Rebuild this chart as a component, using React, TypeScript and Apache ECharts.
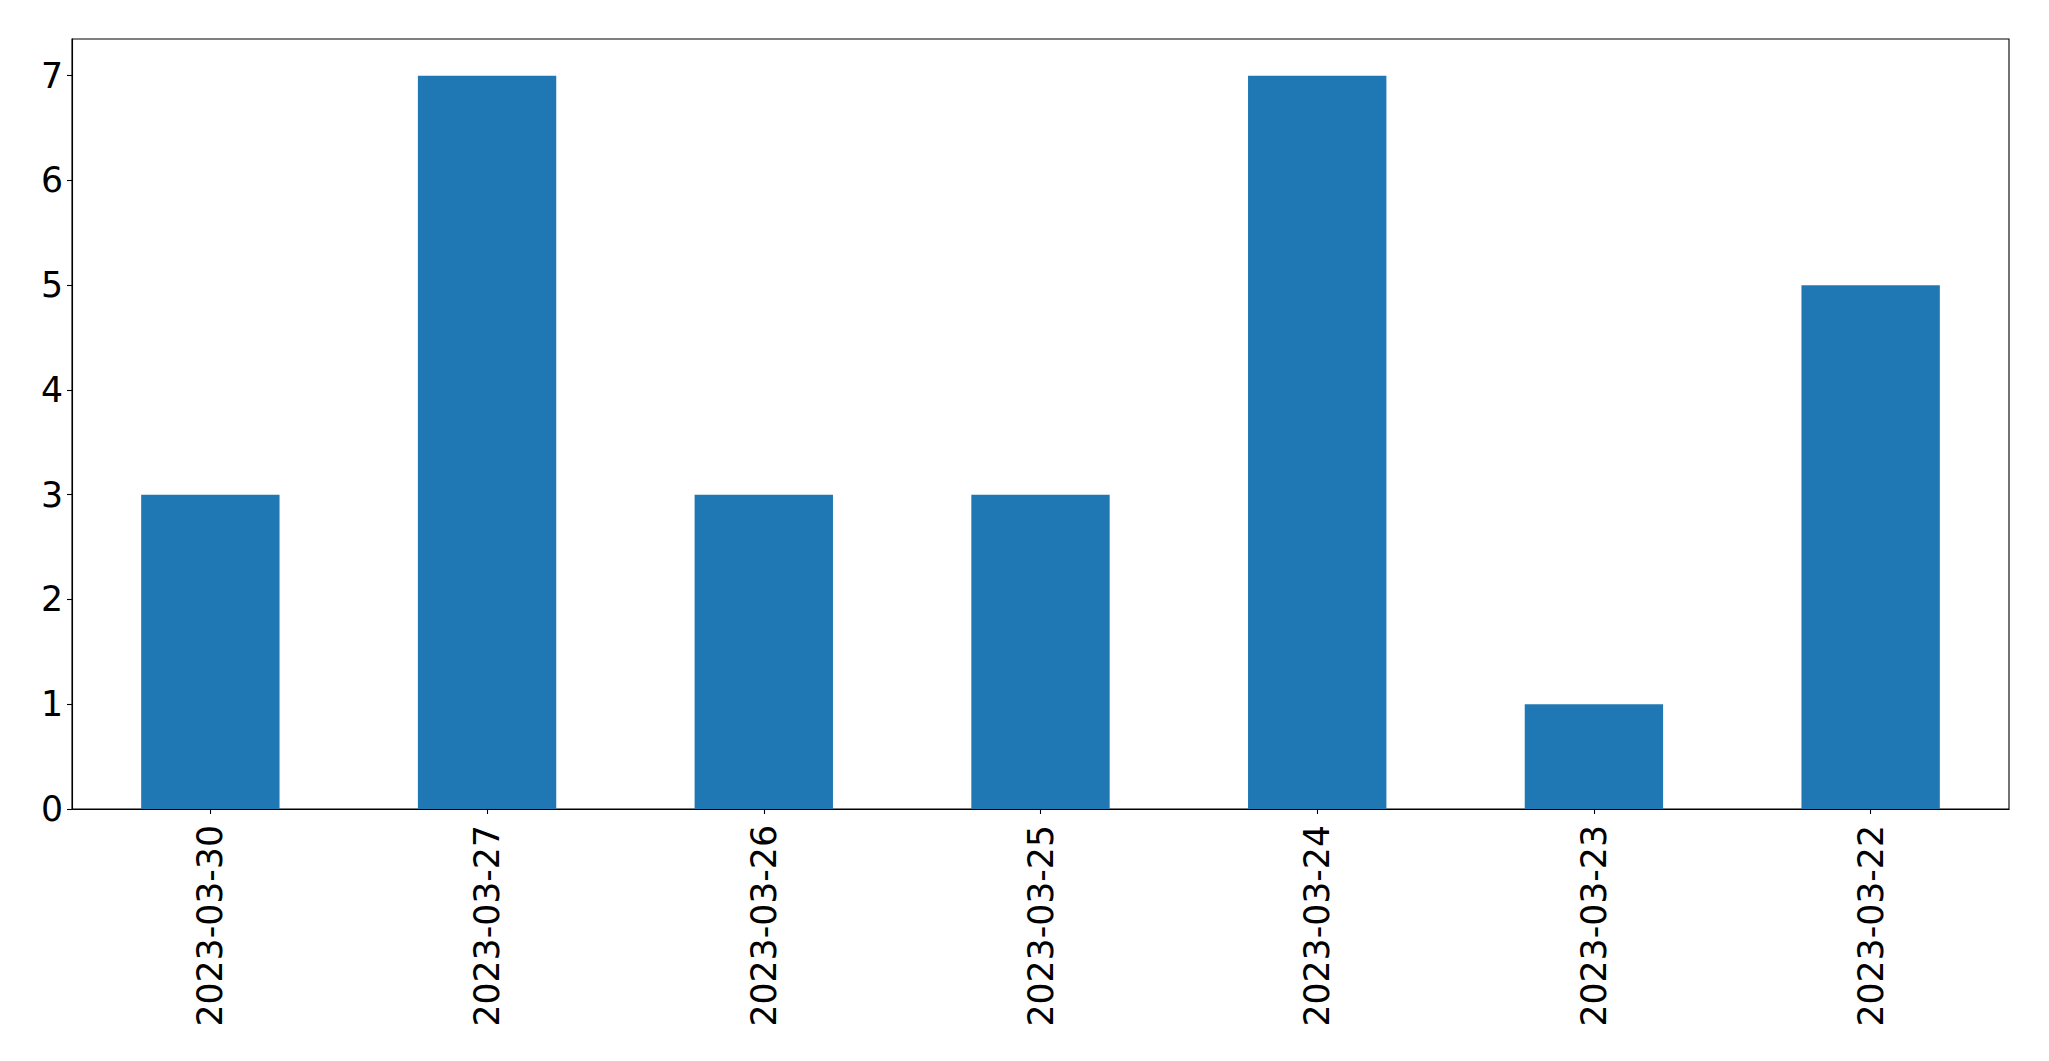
import React, { useEffect, useRef } from "react";
import * as echarts from "echarts";

const categories = ["2023-03-30", "2023-03-27", "2023-03-26", "2023-03-25", "2023-03-24", "2023-03-23", "2023-03-22"];
const counts = [3, 7, 3, 3, 7, 1, 5];

export default function App() {
  const ref = useRef<HTMLDivElement>(null);
  useEffect(() => {
    document.body.style.margin = "0";
    const chart = echarts.init(ref.current!, null, { renderer: "svg" });
    const font = "DejaVu Sans";
    chart.setOption({
      animation: false,
      backgroundColor: "#ffffff",
      grid: {
        left: 72,
        top: 39,
        width: 1937,
        height: 770,
        show: true,
        borderColor: "#000000",
        borderWidth: 1.1,
        backgroundColor: "transparent",
        containLabel: false,
      },
      xAxis: {
        type: "category",
        data: categories,
        boundaryGap: true,
        axisLine: { show: true, lineStyle: { color: "#000000", width: 1.1 } },
        axisTick: { show: true, alignWithLabel: true, length: 5, lineStyle: { color: "#000000", width: 1.1 } },
        axisLabel: { rotate: 90, margin: 16, fontSize: 34.7, fontFamily: font, color: "#000000" },
        splitLine: { show: false },
      },
      yAxis: {
        type: "value",
        min: 0,
        max: 7.35,
        interval: 1,
        axisLine: { show: true, lineStyle: { color: "#000000", width: 1.1 } },
        axisTick: { show: true, length: 5, lineStyle: { color: "#000000", width: 1.1 } },
        axisLabel: { showMaxLabel: false, margin: 9, fontSize: 34.7, fontFamily: font, color: "#000000" },
        splitLine: { show: false },
      },
      series: [
        {
          type: "bar",
          data: counts,
          barWidth: "50%",
          itemStyle: { color: "#1f77b4" },
        },
      ],
    });
    return () => chart.dispose();
  }, []);
  return <div ref={ref} style={{ width: 2049, height: 1061 }} />;
}
